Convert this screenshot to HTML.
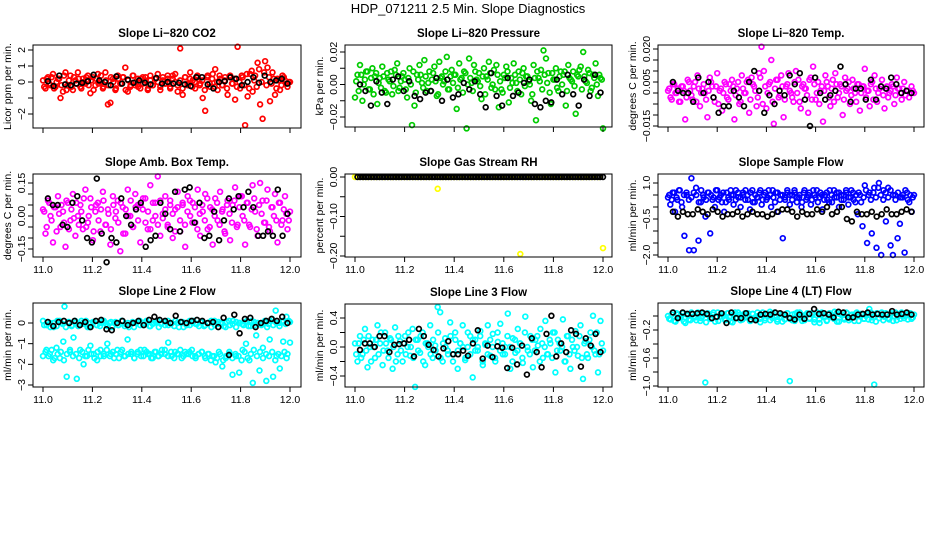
<!DOCTYPE html>
<html><head><meta charset="utf-8">
<style>
html,body{margin:0;padding:0;background:#fff;}
svg{display:block;font-family:"Liberation Sans",Arial,sans-serif;}
</style></head>
<body>
<svg id="chart" width="936" height="540" viewBox="0 0 936 540" xmlns="http://www.w3.org/2000/svg">
<rect x="0" y="0" width="936" height="540" fill="#fff"/>
<text x="468" y="13" font-size="13" text-anchor="middle">HDP_071211  2.5 Min. Slope Diagnostics</text>
</svg>
<script>
const xTickLabels = ["11.0","11.2","11.4","11.6","11.8","12.0"];
const xTickValues = [11.0,11.2,11.4,11.6,11.8,12.0];

const co2Values = [0.1,-0.4,0.3,-0.2,0.5,-0.3,0.2,-1.0,-0.6,0.6,-0.2,0.4,-0.5,0.1,0.6,-0.3,0.2,-0.1,0.4,-0.7,0.3,-0.2,0.5,0.0,-0.4,0.6,-1.4,-1.3,0.2,-0.5,0.4,-0.1,0.3,0.9,-0.6,-0.3,0.4,-0.2,0.2,-0.4,0.3,0.1,-0.5,0.4,-0.2,0.2,0.5,-0.3,0.1,-0.1,0.4,-0.4,0.2,0.5,-0.6,2.1,-0.8,0.3,-0.2,0.6,0.1,-0.4,0.3,-0.1,-1.0,-1.8,0.4,-0.3,0.5,0.8,-0.5,0.2,-0.2,0.3,-0.8,0.4,-0.1,-1.1,2.2,-0.4,0.3,-2.7,-0.9,0.5,-0.6,0.4,1.2,-1.4,-2.3,1.3,0.9,-1.2,0.6,-0.8,0.2,-0.5,0.4,0.1,-0.3,0.0];
const co2Core = [-0.3,0.2,-0.1,0.3,-0.4,0.0,0.2,-0.2,0.4,-0.5,0.1,-0.3,0.3,-0.1,0.2,-0.4,0.0,0.3,-0.2,0.1,-0.5,0.2,-0.1,0.4,-0.3,0.1,-0.2,0.3,0.0,-0.4,0.2,-0.1,0.3,-0.5,0.1,-0.2,0.4,0.0,-0.3,0.2,-0.1,0.3,-0.4,0.1,-0.2,0.2,0.0,-0.5,0.3,-0.1,0.2,-0.3,0.4,0.0,-0.2,0.1,-0.4,0.3,-0.1,0.2,-0.3,0.0,0.4,-0.2,0.1,-0.5,0.3,-0.1,0.2,-0.3,0.0,0.4,-0.2,0.1,-0.4,0.3,-0.1,0.2,-0.3,0.0,0.4,-0.2,0.5,-0.4,0.7,0.1,-0.3,0.8,0.0,0.6,-0.2,0.3,-0.1,0.2,-0.4,0.1,-0.2,0.3,-0.1,0.0];
const co2Black = [0.05,-0.25,0.4,-0.15,-0.2,-0.1,-0.05,0.05,0.45,0.1,0.0,-0.2,0.35,-0.1,0.15,-0.05,0.1,-0.05,-0.15,0.25,-0.1,0.0,-0.1,-0.05,-0.15,-0.25,0.3,0.3,-0.15,-0.4,0.0,0.05,0.3,0.2,-0.2,0.0,0.3,-0.05,0.4,0.0,0.1,0.2,-0.1];

const presValues = [-0.008,0.006,0.012,-0.01,0.003,0.008,-0.003,0.01,0.005,-0.012,0.004,0.011,-0.004,0.007,0.002,-0.006,0.009,0.013,-0.002,0.005,0.003,-0.008,0.01,-0.025,-0.013,0.006,0.012,0.001,0.015,-0.004,0.008,0.003,0.011,-0.007,0.014,0.005,0.002,0.017,-0.003,0.009,0.006,-0.015,0.013,0.004,0.008,-0.027,0.016,0.001,0.012,0.003,0.007,-0.009,0.01,0.005,0.014,-0.002,0.009,0.012,-0.014,-0.003,0.006,0.011,-0.011,0.004,0.013,0.001,0.008,-0.006,0.01,0.005,0.002,-0.01,0.012,-0.022,0.004,0.009,0.021,0.016,0.007,-0.012,0.003,0.01,-0.004,0.008,0.006,-0.013,0.012,0.003,0.008,-0.018,0.005,0.011,0.02,0.002,0.009,-0.004,0.006,0.013,-0.007,0.004,-0.027];
const presCore = [0.002,-0.004,0.006,0.0,0.008,-0.003,0.004,-0.006,0.007,0.001,-0.002,0.005,-0.005,0.003,0.008,-0.001,0.006,-0.004,0.002,0.007,-0.003,0.004,0.0,0.008,-0.005,0.003,0.006,-0.002,0.005,0.001,-0.004,0.007,0.002,-0.006,0.004,0.0,0.008,-0.003,0.005,0.001,0.006,-0.002,0.003,-0.005,0.007,0.0,0.004,-0.004,0.008,0.002,-0.001,0.005,-0.006,0.003,0.007,0.0,-0.003,0.006,0.002,-0.005,0.004,0.008,-0.002,0.001,0.006,-0.004,0.003,0.007,-0.001,0.005,0.0,-0.006,0.004,0.008,0.002,-0.003,0.006,0.001,-0.005,0.007,0.003,-0.002,0.005,0.0,0.008,-0.004,0.004,0.002,-0.001,0.006,0.009,-0.003,0.005,0.001,0.007,-0.002,0.004,0.0,0.006,0.003];
const presBlack = [0.0,-0.004,-0.013,0.002,-0.005,-0.012,0.003,0.005,-0.004,0.002,-0.007,-0.009,-0.005,-0.004,0.004,-0.01,0.003,-0.008,-0.006,0.001,-0.003,0.002,-0.006,-0.014,0.007,-0.007,-0.013,0.004,-0.007,-0.005,0.001,0.003,-0.012,-0.014,-0.01,-0.011,0.003,-0.006,0.006,-0.006,-0.013,0.003,-0.007,0.006,-0.005];

const tempValues = [0.001,-0.002,0.004,0.0,0.002,-0.004,0.003,-0.012,0.006,0.001,-0.003,0.005,0.008,-0.006,0.002,0.0,-0.011,0.007,0.003,-0.004,0.009,0.001,-0.008,0.005,-0.002,0.004,0.006,-0.012,0.002,-0.005,0.008,0.0,0.005,-0.009,0.007,0.003,-0.006,0.009,0.021,0.01,-0.007,0.004,0.015,-0.014,0.006,-0.002,0.008,-0.011,0.003,0.009,0.0,-0.004,0.01,0.006,-0.007,0.004,0.002,-0.009,0.007,0.012,-0.003,0.005,0.001,-0.013,0.008,0.003,-0.006,0.006,0.009,-0.002,0.004,-0.01,0.007,0.002,-0.005,0.006,0.0,0.004,-0.008,0.003,0.011,0.001,-0.006,0.005,0.008,-0.004,0.002,0.006,-0.007,0.003,0.0,0.004,-0.005,0.007,0.002,-0.003,0.005,0.001,-0.002,0.003,0.0];
const tempCore = [0.002,-0.003,0.004,0.0,-0.004,0.003,0.001,-0.002,0.005,-0.001,0.003,-0.004,0.002,0.0,0.004,-0.003,0.001,0.005,-0.002,0.003,-0.005,0.002,0.0,0.004,-0.003,0.001,0.003,-0.001,0.005,-0.004,0.002,0.0,0.006,-0.003,0.004,0.001,-0.002,0.007,-0.005,0.003,0.0,0.005,-0.004,0.002,0.006,-0.001,0.003,-0.003,0.004,0.001,-0.002,0.005,0.0,-0.004,0.003,0.002,-0.001,0.006,-0.003,0.004,0.0,-0.005,0.003,0.001,0.005,-0.002,0.002,-0.004,0.004,0.0,0.003,-0.003,0.001,0.005,-0.001,0.002,-0.004,0.004,0.0,0.003,-0.002,0.001,0.004,-0.003,0.002,0.0,0.003,-0.001,0.002,-0.002,0.001,0.003,-0.001,0.002,0.0,0.002,-0.001,0.001,0.0,0.001];
const tempBlack = [0.005,0.001,0.0,0.0,-0.004,0.007,0.0,0.005,-0.002,-0.009,-0.006,-0.006,0.001,-0.002,-0.006,0.005,0.01,0.001,-0.009,-0.001,-0.005,0.001,-0.001,0.008,0.004,0.009,-0.003,-0.015,0.007,0.0,-0.003,-0.001,0.001,0.012,0.004,-0.004,0.002,0.002,-0.003,0.006,-0.003,0.003,0.002,0.007,0.004,0.0,0.001,0.0];

const ambValues = [0.03,-0.08,0.07,0.0,-0.12,0.04,0.09,-0.05,0.02,-0.14,0.06,-0.02,0.1,-0.09,0.0,0.05,-0.06,0.12,-0.03,0.08,-0.11,0.02,0.06,-0.07,0.11,-0.04,0.03,-0.13,0.09,-0.01,0.07,-0.16,0.04,-0.08,0.12,0.0,-0.05,0.1,0.05,-0.12,0.03,0.08,-0.06,0.14,-0.02,0.06,0.18,-0.09,0.01,0.09,-0.04,0.07,-0.1,0.03,0.11,-0.07,0.05,-0.14,0.09,0.0,0.06,-0.03,0.12,-0.09,0.02,0.1,-0.06,0.04,-0.13,0.08,-0.02,0.11,0.03,-0.08,0.07,-0.11,0.05,0.13,-0.04,0.09,0.0,-0.13,0.06,-0.05,0.14,0.02,-0.09,0.15,0.07,-0.03,0.12,-0.07,0.04,0.1,-0.12,0.06,-0.02,0.09,-0.06,0.02];
const ambCore = [0.02,-0.05,0.06,-0.02,0.04,-0.07,0.01,0.05,-0.03,0.07,-0.06,0.03,-0.01,0.06,-0.04,0.02,0.08,-0.05,0.0,0.04,-0.07,0.05,-0.02,0.03,0.07,-0.04,0.01,-0.06,0.05,0.02,-0.03,0.06,-0.08,0.03,0.0,0.07,-0.05,0.04,-0.02,0.05,0.08,-0.03,0.02,-0.06,0.06,0.0,-0.04,0.07,-0.01,0.03,-0.05,0.05,0.01,-0.07,0.04,-0.02,0.06,-0.04,0.02,0.07,-0.03,0.04,-0.06,0.01,0.05,-0.02,0.08,-0.05,0.03,0.0,0.06,-0.04,0.02,-0.07,0.05,0.01,-0.03,0.07,-0.05,0.04,0.09,-0.02,0.06,-0.04,0.03,0.08,-0.06,0.05,0.01,-0.03,0.07,-0.05,0.04,0.0,-0.02,0.06,-0.04,0.03,0.01,-0.02];
const ambBlack = [0.08,0.05,0.05,-0.04,-0.05,0.06,0.09,-0.02,-0.1,-0.12,0.17,-0.08,-0.21,-0.1,-0.12,0.08,0.0,-0.04,0.03,0.06,-0.14,-0.11,-0.09,0.06,0.01,-0.06,0.11,-0.07,0.12,0.13,-0.03,0.06,-0.1,-0.09,0.02,-0.11,-0.02,0.08,0.03,0.09,0.04,0.11,0.04,-0.09,-0.09,-0.07,-0.09,0.12,-0.09,0.01];

const rhValues = [0,0,0,0,0,0,0,0,0,0,0,0,0,0,0,0,0,0,0,0,-0.03,0,0,0,0,0,0,0,0,0,0,0,0,0,0,0,0,0,0,0,-0.195,0,0,0,0,0,0,0,0,0,0,0,0,0,0,0,0,0,0,0,-0.18];
const rhBlack = [0,0,0,0,0,0,0,0,0,0,0,0,0,0,0,0,0,0,0,0,0,0,0,0,0,0,0,0,0,0,0,0,0,0,0,0,0,0,0,0,0,0,0,0,0,0,0,0,0,0,0,0,0,0,0,0,0,0,0,0,0,0,0,0,0,0,0,0,0,0,0,0,0,0,0,0,0,0,0,0,0,0,0,0,0,0,0,0,0,0];

const flowValues = [0.4,0.1,0.6,-0.2,0.3,0.7,0.0,-1.2,0.5,-1.8,1.2,-1.8,0.8,-1.4,0.2,0.5,-0.4,0.6,-1.1,0.3,0.0,0.7,0.4,0.2,-0.2,0.6,0.3,0.5,0.1,0.7,0.4,0.0,0.6,0.3,0.5,-0.1,0.7,0.2,0.4,0.6,0.1,0.5,0.3,0.7,0.0,0.4,0.6,-0.2,0.5,-1.3,0.3,0.6,0.1,0.5,0.7,0.2,0.4,0.0,0.6,0.3,0.5,0.1,0.7,0.4,0.2,0.6,-0.1,0.5,0.3,0.7,0.2,0.4,0.6,0.0,0.5,0.3,0.7,0.1,0.4,0.6,0.2,-0.3,0.5,-0.8,0.9,-1.5,0.6,-1.1,0.8,-1.7,1.0,-2.0,0.7,-0.6,0.8,-1.6,-2.0,0.5,-1.3,-0.7,0.4,-1.9,0.6,0.2,-0.2,0.5];
const flowCore = [0.5,0.3,0.6,0.4,0.7,0.2,0.5,0.6,0.3,0.4,0.6,0.5,0.2,0.7,0.4,0.3,0.6,0.5,0.4,0.7,0.3,0.5,0.6,0.2,0.4,0.7,0.5,0.3,0.6,0.4,0.5,0.7,0.3,0.6,0.2,0.5,0.4,0.7,0.3,0.6,0.4,0.5,0.7,0.2,0.6,0.3,0.5,0.4,0.7,0.5,0.3,0.6,0.4,0.5,0.2,0.7,0.4,0.6,0.3,0.5,0.7,0.4,0.5,0.3,0.6,0.2,0.5,0.7,0.4,0.6,0.3,0.5,0.6,0.4,0.7,0.3,0.5,0.6,0.2,0.4,0.7,0.5,0.3,0.6,0.4,0.8,0.5,0.3,0.6,0.4,0.7,0.5,0.3,0.6,0.4,0.5,0.7,0.3,0.5,0.4];
const flowBlack = [-0.2,-0.4,-0.2,-0.3,-0.3,-0.1,-0.2,-0.3,-0.1,-0.2,-0.4,-0.3,-0.3,-0.2,-0.4,-0.3,-0.2,-0.3,-0.3,-0.4,-0.3,-0.2,-0.1,-0.1,-0.2,-0.4,-0.2,-0.3,-0.3,-0.1,-0.2,0.0,-0.3,-0.2,0.0,-0.5,-0.6,-0.2,-0.3,-0.3,-0.2,-0.4,-0.3,-0.1,-0.3,-0.3,-0.2,-0.1,-0.2];

const line2Upper = [0.1,-0.1,0.0,-0.2,0.1,0.0,0.8,0.05,-0.15,0.1,-0.05,0.0,0.1,-0.2,0.05,-0.1,0.0,0.1,-0.15,0.05,0.0,-0.1,0.1,-0.05,-0.2,0.05,0.0,0.1,-0.1,0.05,-0.15,0.0,0.1,-0.05,0.05,-0.1,0.0,0.1,-0.2,0.05,0.0,-0.1,0.1,-0.05,0.05,-0.15,0.0,0.1,-0.1,0.05,0.0,-0.2,0.1,-0.05,0.05,0.0,-0.1,0.1,-0.15,0.05,0.0,-0.1,0.1,-0.05,0.2,0.6,0.0,0.1,0.3,0.05];
const line2UpperCore = [-0.1,0.05,-0.2,0.0,-0.15,0.1,-0.05,-0.2,0.05,-0.1,0.0,-0.15,0.1,-0.05,-0.2,0.0,0.05,-0.1,-0.15,0.1,-0.05,0.0,-0.2,0.05,-0.1,0.1,-0.15,0.0,-0.05,-0.2,0.05,-0.1,0.0,0.1,-0.15,-0.05,0.05,-0.2,0.0,-0.1,0.1,-0.05,-0.15,0.0,0.05,-0.2,-0.1,0.1,0.0,-0.05,-0.15,0.05,-0.1,0.0,-0.2,0.1,-0.05,0.0,-0.15,0.05,-0.1,0.1,-0.2,0.0,-0.05,0.05,-0.15,0.1,-0.1,0.0,-0.05,0.05,-0.2,0.1,-0.1,0.0,-0.15,0.05,-0.05,0.1];
const line2Lower = [-1.6,-1.3,-1.5,-1.8,-1.2,-1.7,-0.9,-2.6,-1.4,-0.7,-2.7,-1.3,-2.0,-1.6,-1.1,-1.5,-1.8,-1.3,-1.6,-1.0,-1.5,-1.7,-1.3,-1.4,-1.6,-0.8,-1.5,-1.7,-1.4,-1.6,-1.3,-1.5,-1.7,-1.4,-1.6,-1.5,-1.3,-0.95,-1.6,-1.4,-1.5,-1.7,-1.4,-1.5,-1.3,-1.6,-1.5,-1.4,-1.7,-1.5,-1.6,-1.9,-1.4,-2.1,-1.7,-1.5,-2.5,-1.6,-2.4,-1.3,-1.0,-1.8,-2.9,-0.6,-2.3,-1.2,-2.8,-0.8,-2.6,-1.6,-2.2,-0.9,-1.7,-0.95];
const line2LowerCore = [-1.4,-1.6,-1.3,-1.7,-1.5,-1.4,-1.8,-1.5,-1.3,-1.6,-1.5,-1.7,-1.4,-1.6,-1.3,-1.5,-1.7,-1.4,-1.6,-1.5,-1.3,-1.6,-1.4,-1.5,-1.7,-1.3,-1.6,-1.5,-1.4,-1.7,-1.5,-1.3,-1.6,-1.4,-1.5,-1.7,-1.4,-1.6,-1.3,-1.5,-1.6,-1.4,-1.7,-1.5,-1.3,-1.6,-1.5,-1.4,-1.6,-1.7,-1.5,-1.4,-1.6,-1.5,-1.8,-1.6,-1.7,-1.5,-1.8,-1.6,-1.4,-1.7,-1.5,-1.6,-1.8,-1.4,-1.7,-1.5,-1.3,-1.6,-1.4,-1.7,-1.5,-1.6,-1.4,-1.8,-1.5,-1.6,-1.4,-1.5];
const line2Black = [0.05,-0.15,0.05,0.1,0.0,0.1,-0.1,0.05,-0.2,0.1,0.15,-0.3,-0.35,0.0,0.1,-0.1,0.0,0.1,-0.1,0.15,0.3,0.15,0.1,0.0,0.35,0.05,0.0,0.1,0.15,0.1,0.0,0.05,-0.2,0.25,-1.55,0.4,-0.5,0.2,0.25,-0.2,0.0,0.1,0.2,0.1,0.3,0.0];

const line3Values = [0.05,-0.2,0.15,-0.1,0.25,-0.28,0.0,0.1,-0.15,0.3,0.05,-0.25,0.2,-0.05,0.12,-0.3,0.27,-0.1,0.08,-0.2,0.15,0.0,-0.12,0.25,-0.55,0.1,-0.08,0.2,-0.25,0.05,0.3,-0.15,0.02,0.55,0.48,-0.2,0.12,-0.05,0.34,-0.1,0.2,-0.3,0.05,0.3,-0.18,0.0,0.15,-0.42,0.1,-0.05,0.22,-0.25,0.03,0.3,-0.12,0.18,-0.2,0.07,0.32,-0.1,0.0,0.46,-0.3,0.12,-0.08,0.25,0.05,-0.22,0.42,-0.05,0.15,-0.28,0.1,0.02,0.25,-0.15,0.36,-0.1,0.05,0.2,-0.35,0.1,-0.05,0.38,-0.2,0.15,-0.3,0.0,0.22,-0.12,0.3,-0.44,0.08,-0.15,0.2,0.43,-0.1,-0.35,0.36,-0.05];
const line3Core = [-0.1,0.05,-0.15,0.1,-0.05,0.15,-0.2,0.0,0.1,-0.1,0.2,-0.05,0.05,-0.15,0.1,0.0,-0.2,0.15,-0.05,0.05,-0.1,0.2,0.0,-0.15,0.1,-0.05,0.15,-0.2,0.05,0.0,-0.1,0.1,-0.05,0.2,-0.15,0.05,0.0,-0.1,0.15,-0.2,0.1,-0.05,0.05,0.0,-0.15,0.2,-0.1,0.1,-0.05,0.0,0.15,-0.2,0.05,-0.1,0.1,0.0,-0.15,0.2,-0.05,0.05,-0.1,0.15,0.0,-0.2,0.1,-0.05,0.05,-0.15,0.2,0.0,-0.1,0.1,-0.05,0.15,-0.2,0.05,0.0,-0.1,0.1,-0.15,0.2,-0.05,0.05,0.0,-0.2,0.15,-0.1,0.1,-0.05,0.0,0.15,-0.15,0.05,-0.1,0.1,0.0,-0.05,0.2,-0.1,0.05];
const line3Black = [-0.04,0.05,0.05,0.0,0.15,0.15,-0.07,0.03,0.04,0.05,0.1,-0.13,0.25,0.15,0.03,-0.04,-0.13,-0.02,0.08,-0.1,-0.1,-0.05,-0.12,0.05,0.23,-0.16,0.02,-0.14,0.01,-0.01,-0.29,-0.01,-0.24,0.02,-0.38,0.12,-0.07,-0.28,0.18,0.43,-0.13,0.05,-0.07,0.23,0.18,-0.27,0.12,0.02,0.18,-0.07];

const line4Values = [0.0,-0.05,0.05,-0.08,0.02,-0.03,0.04,-0.1,0.01,-0.06,0.03,-0.02,0.05,-0.07,0.0,-0.95,0.04,-0.04,0.02,-0.08,0.05,-0.01,0.03,-0.06,0.04,0.0,-0.09,0.05,-0.03,0.02,-0.05,0.04,0.0,-0.07,0.03,-0.02,0.05,-0.04,0.01,-0.06,0.03,0.06,-0.03,0.05,-0.08,-0.02,0.02,-0.05,0.04,-0.93,-0.06,0.03,-0.02,0.05,-0.07,0.01,0.04,-0.04,0.02,-0.05,0.05,-0.1,0.03,0.0,-0.06,0.04,-0.02,0.06,-0.08,0.03,0.01,-0.05,0.04,-0.03,0.02,-0.07,0.05,0.0,0.02,-0.04,0.03,0.1,-0.06,-0.98,0.04,-0.03,0.05,-0.01,0.03,-0.05,0.04,0.0,-0.06,0.02,0.05,-0.03,0.01,0.04,-0.04,0.02];
const line4Core = [-0.04,0.02,-0.07,0.04,-0.02,0.0,-0.08,0.03,-0.05,0.05,-0.01,-0.06,0.02,-0.03,0.04,-0.09,0.01,-0.04,0.05,-0.02,-0.07,0.03,0.0,-0.05,0.04,-0.08,0.02,-0.03,0.05,-0.06,0.01,-0.02,0.04,-0.07,0.03,-0.04,0.0,-0.09,0.05,-0.03,0.02,-0.06,0.04,-0.01,-0.05,0.03,-0.08,0.01,0.04,-0.04,0.02,-0.07,0.05,-0.02,0.0,-0.06,0.03,-0.03,0.04,-0.09,0.01,-0.05,0.05,-0.02,-0.07,0.03,0.0,-0.04,0.04,-0.08,0.02,-0.03,0.05,-0.06,0.01,-0.01,0.04,-0.07,0.03,-0.04,0.0,-0.05,0.05,-0.02,-0.08,0.03,0.01,-0.06,0.04,-0.03,0.02,-0.07,0.05,-0.01,-0.04,0.03,0.0,-0.05,0.04,-0.02];
const line4Black = [0.05,-0.03,0.05,0.03,0.03,0.04,0.05,0.03,-0.03,-0.01,0.04,-0.1,0.05,-0.03,-0.03,0.04,-0.05,-0.06,0.02,0.03,0.02,0.05,0.04,0.02,-0.03,-0.05,0.02,-0.04,0.03,0.1,0.03,0.04,0.02,-0.02,0.06,0.05,-0.02,-0.02,0.02,0.03,0.05,0.02,0.03,0.02,0.02,0.07,0.02,0.03,0.05,0.02];

const NS = "http://www.w3.org/2000/svg";
const svg = document.getElementById('chart');
function mk(tag, attrs, parent){
  const e = document.createElementNS(NS, tag);
  for (const k in attrs) e.setAttribute(k, attrs[k]);
  (parent||svg).appendChild(e);
  return e;
}

function panel(cfg){
  const g = mk('g', {});
  
  
  const b = cfg.box;
  const xScale = v => cfg.x0 + (v - 11) * (cfg.x1 - cfg.x0);
  const yScale = v => cfg.yA + (v - cfg.vA) * (cfg.yB - cfg.yA) / (cfg.vB - cfg.vA);
  const t = mk('text', {x:(b.l+b.r)/2, y:b.t-8, 'font-size':11.5, 'font-weight':'bold', 'text-anchor':'middle'}, g);
  t.textContent = cfg.title;
  
  
  const yl = mk('text', {transform:`translate(${b.l-22},${(b.t+b.b)/2}) rotate(-90)`, 'font-size':10.5, 'text-anchor':'middle'}, g);
  yl.textContent = cfg.ylabel;
  
  
  function drawSeries(vals, color, nm, xa, xb){
    const n = vals.length;
    vals.forEach((v, i) => {
      const xv = xa + (n > 1 ? i * (xb - xa) / (n - 1) : 0);
      const c = mk('circle', {cx:xScale(xv).toFixed(1), cy:yScale(v).toFixed(1), r:2.4, fill:'none', stroke:color, 'stroke-width':1.7}, g);
      
      
    });
  }
  cfg.series.forEach(s => drawSeries(s.vals, s.color, s.name, s.xa, s.xb));
  const bx = mk('rect', {x:b.l, y:b.t, width:b.r-b.l, height:b.b-b.t, fill:'none', stroke:'#000', 'stroke-width':1}, g);
  
  
  xTickValues.forEach((v, i) => {
    mk('line', {x1:xScale(v), x2:xScale(v), y1:b.b, y2:b.b+5, stroke:'#000'}, g);
    if (cfg.showX){
      const tl = mk('text', {x:xScale(v), y:b.b+16, 'font-size':10.5, 'text-anchor':'middle'}, g);
      tl.textContent = xTickLabels[i];
      
      
    }
  });
  cfg.yTicks.forEach(v => {
    mk('line', {x1:b.l-5, x2:b.l, y1:yScale(v), y2:yScale(v), stroke:'#000'}, g);
  });
  cfg.yLabels.forEach((lab, i) => {
    const yy = yScale(cfg.yLabelVals[i]);
    const tl = mk('text', {transform:`translate(${b.l-8},${yy}) rotate(-90)`, 'font-size':10.5, 'text-anchor':'middle'}, g);
    tl.textContent = lab;
    
    
  });
}

const L = {l:33, r:301}, M = {l:345, r:612}, R = {l:658, r:924};
const BLK = '#000';
panel({name:'panel-co2', title:'Slope Li\u2212820 CO2', ylabel:'Licor ppm per min.', box:{...L, t:45, b:128},
  x0:43, x1:290, vA:2, yA:50, vB:-2, yB:114, showX:false,
  yTicks:[-2,-1,0,1,2], yLabels:['2','1','0','\u22122'], yLabelVals:[2,1,0,-2],
  series:[{vals:co2Values, color:'#ff0000', name:'co2-point', xa:11, xb:12},{vals:co2Core, color:'#ff0000', name:'co2-point', xa:11.005, xb:11.995},{vals:co2Black, color:BLK, name:'co2-black-point', xa:11.02, xb:11.99}]});
panel({name:'panel-pressure', title:'Slope Li\u2212820 Pressure', ylabel:'kPa per min.', box:{...M, t:45, b:127},
  x0:355, x1:603, vA:0.02, yA:52, vB:-0.02, yB:117, showX:false,
  yTicks:[-0.02,-0.01,0,0.01,0.02], yLabels:['0.02','0.00','\u22120.02'], yLabelVals:[0.02,0,-0.02],
  series:[{vals:presValues, color:'#00cc00', name:'pressure-point', xa:11, xb:12},{vals:presCore, color:'#00cc00', name:'pressure-point', xa:11.005, xb:11.995},{vals:presBlack, color:BLK, name:'pressure-black-point', xa:11.02, xb:11.99}]});
panel({name:'panel-temp', title:'Slope Li\u2212820 Temp.', ylabel:'degrees C per min.', box:{...R, t:45, b:127},
  x0:668, x1:914, vA:0.02, yA:49, vB:0, yB:93, showX:false,
  yTicks:[0.02,0.015,0.01,0.005,0,-0.005,-0.01,-0.015], yLabels:['0.020','0.005','\u22120.015'], yLabelVals:[0.02,0.005,-0.015],
  series:[{vals:tempValues, color:'#ff00ff', name:'temp-point', xa:11, xb:12},{vals:tempCore, color:'#ff00ff', name:'temp-point', xa:11.005, xb:11.995},{vals:tempBlack, color:BLK, name:'temp-black-point', xa:11.02, xb:11.99}]});

panel({name:'panel-amb-box', title:'Slope Amb. Box Temp.', ylabel:'degrees C per min.', box:{...L, t:174, b:257},
  x0:43, x1:290, vA:0.15, yA:183, vB:-0.15, yB:249, showX:true,
  yTicks:[-0.15,-0.1,-0.05,0,0.05,0.1,0.15], yLabels:['0.15','0.00','\u22120.15'], yLabelVals:[0.15,0,-0.15],
  series:[{vals:ambValues, color:'#ff00ff', name:'amb-point', xa:11, xb:12},{vals:ambCore, color:'#ff00ff', name:'amb-point', xa:11.005, xb:11.995},{vals:ambBlack, color:BLK, name:'amb-black-point', xa:11.02, xb:11.99}]});
panel({name:'panel-rh', title:'Slope Gas Stream RH', ylabel:'percent per min.', box:{...M, t:174, b:257},
  x0:355, x1:603, vA:0, yA:177, vB:-0.2, yB:256, showX:true,
  yTicks:[0,-0.05,-0.1,-0.15,-0.2], yLabels:['0.00','\u22120.10','\u22120.20'], yLabelVals:[0,-0.1,-0.2],
  series:[{vals:rhValues, color:'#ffff00', name:'rh-point', xa:11, xb:12},{vals:rhBlack, color:BLK, name:'rh-black-point', xa:11.01, xb:12.0}]});
panel({name:'panel-sample-flow', title:'Slope Sample Flow', ylabel:'ml/min per min.', box:{...R, t:174, b:257},
  x0:668, x1:914, vA:1, yA:183, vB:-2, yB:255, showX:true,
  yTicks:[1,0.5,0,-0.5,-1,-1.5,-2], yLabels:['1.0','\u22120.5','\u22122.0'], yLabelVals:[1,-0.5,-2],
  series:[{vals:flowValues, color:'#0000ff', name:'sample-flow-point', xa:11, xb:12},{vals:flowCore, color:'#0000ff', name:'sample-flow-point', xa:11.005, xb:11.995},{vals:flowBlack, color:BLK, name:'sample-flow-black-point', xa:11.02, xb:11.99}]});

panel({name:'panel-line2', title:'Slope Line 2 Flow', ylabel:'ml/min per min.', box:{...L, t:303, b:387},
  x0:43, x1:290, vA:0, yA:323, vB:-3, yB:385, showX:true,
  yTicks:[0,-1,-2,-3], yLabels:['0','\u22121','\u22122','\u22123'], yLabelVals:[0,-1,-2,-3],
  series:[{vals:line2Upper, color:'#00ffff', name:'line2-upper-point', xa:11, xb:12},{vals:line2UpperCore, color:'#00ffff', name:'line2-upper-point', xa:11.005, xb:11.995},{vals:line2Lower, color:'#00ffff', name:'line2-lower-point', xa:11, xb:12},{vals:line2LowerCore, color:'#00ffff', name:'line2-lower-point', xa:11.01, xb:11.99},{vals:line2Black, color:BLK, name:'line2-black-point', xa:11.02, xb:11.99}]});
panel({name:'panel-line3', title:'Slope Line 3 Flow', ylabel:'ml/min per min.', box:{...M, t:304, b:387},
  x0:355, x1:603, vA:0.4, yA:318, vB:-0.4, yB:376, showX:true,
  yTicks:[0.4,0.2,0,-0.2,-0.4], yLabels:['0.4','0.0','\u22120.4'], yLabelVals:[0.4,0,-0.4],
  series:[{vals:line3Values, color:'#00ffff', name:'line3-point', xa:11, xb:12},{vals:line3Core, color:'#00ffff', name:'line3-point', xa:11.005, xb:11.995},{vals:line3Black, color:BLK, name:'line3-black-point', xa:11.02, xb:11.99}]});
panel({name:'panel-line4', title:'Slope Line 4 (LT) Flow', ylabel:'ml/min per min.', box:{...R, t:303, b:387},
  x0:668, x1:914, vA:-0.2, yA:330, vB:-1.0, yB:386, showX:true,
  yTicks:[0,-0.2,-0.4,-0.6,-0.8,-1.0], yLabels:['\u22120.2','\u22120.6','\u22121.0'], yLabelVals:[-0.2,-0.6,-1.0],
  series:[{vals:line4Values, color:'#00ffff', name:'line4-point', xa:11, xb:12},{vals:line4Core, color:'#00ffff', name:'line4-point', xa:11.005, xb:11.995},{vals:line4Black, color:BLK, name:'line4-black-point', xa:11.02, xb:11.99}]});
</script>
</body></html>
